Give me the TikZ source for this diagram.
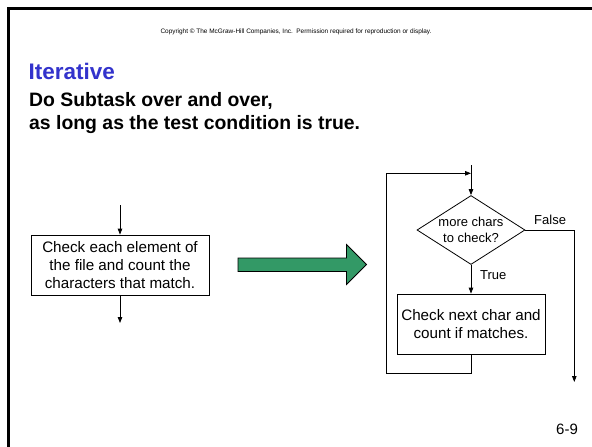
\documentclass[tikz,border=0pt]{standalone}
\usepackage{fontspec}
\setmainfont{Liberation Sans}
\usetikzlibrary{arrows.meta,shapes.geometric}
\definecolor{titleblue}{RGB}{51,51,204}
\definecolor{arrowgreen}{RGB}{51,153,102}
\tikzset{
  conn/.style={draw=black,line width=0.8pt},
  arr/.style={conn,-{Triangle[length=6pt,width=4.5pt]}},
  procbox/.style={draw=black,line width=0.8pt,rectangle,inner sep=0pt,align=center,font=\fontsize{15.2}{18}\selectfont},
  decide/.style={draw=black,line width=0.8pt,diamond,inner sep=0pt},
  lbl/.style={inner sep=0pt,font=\fontsize{13}{16}\selectfont},
}
\begin{document}
\begin{tikzpicture}[x=1pt,y=-1pt]
\useasboundingbox (0,0) rectangle (592,447);
% slide frame
\draw[line width=3pt] (8.5,447) -- (8.5,8) -- (592,8);
% header texts
\node[inner sep=0pt,anchor=base,font=\fontsize{6.45}{8}\selectfont] (copy) at (296,33) {Copyright \textcopyright{} The McGraw-Hill Companies, Inc.\ \ Permission required for reproduction or display.};
\node[inner sep=0pt,anchor=base west,text=titleblue,font=\bfseries\fontsize{22.5}{27}\selectfont] (title) at (28.5,79) {Iterative};
\node[inner sep=0pt,anchor=base west,font=\bfseries\fontsize{19.4}{23}\selectfont] (l1) at (29,106.5) {Do Subtask over and over,};
\node[inner sep=0pt,anchor=base west,font=\bfseries\fontsize{19.4}{23}\selectfont] (l2) at (29,129.5) {as long as the test condition is true.};
% left flow
\node[procbox,minimum width=178pt,minimum height=60pt] (box1) at (120,265) {Check each element of\\the file and count the\\characters that match.};
\coordinate (in1) at (120,205);
\coordinate (out1) at (120,323);
\draw[arr] (in1) -- (box1.north);
\draw[arr] (box1.south) -- (out1);
% green arrow
\draw[fill=arrowgreen,draw=black,line width=0.8pt] (238,258) -- (346.5,258) -- (346.5,244.5) -- (366.5,264.5) -- (346.5,284.5) -- (346.5,271.5) -- (238,271.5) -- cycle;
% right flow
\node[decide,minimum width=108pt,minimum height=69pt] (dec) at (471,230) {};
\node[lbl,align=center,font=\fontsize{13}{16}\selectfont] (dectext) at (471,230) {more chars\\to check?};
\node[procbox,minimum width=148pt,minimum height=60pt] (box2) at (471,324) {Check next char and\\count if matches.};
\coordinate (top) at (471,165);
\coordinate (join) at (471,173.3);
\coordinate (loopbl) at (386.7,373.3);
\coordinate (loopb) at (471,373.3);
\coordinate (ftop) at (574.3,230);
\coordinate (fend) at (574.3,382);
\draw[arr] (top) -- (dec.north);
\draw[arr] (dec.south) -- (box2.north);
\draw[arr] (box2.south) -- (loopb) -- (loopbl) |- (join);
\draw[arr] (dec.east) -- (ftop) -- (fend);
\node[lbl,anchor=base west] (tlab) at (480,279.5) {True};
\node[lbl,anchor=base west] (flab) at (534,224.5) {False};
% page number
\node[inner sep=0pt,anchor=base,font=\fontsize{15}{18}\selectfont] (pg) at (567,434) {6-9};
\end{tikzpicture}
\end{document}
